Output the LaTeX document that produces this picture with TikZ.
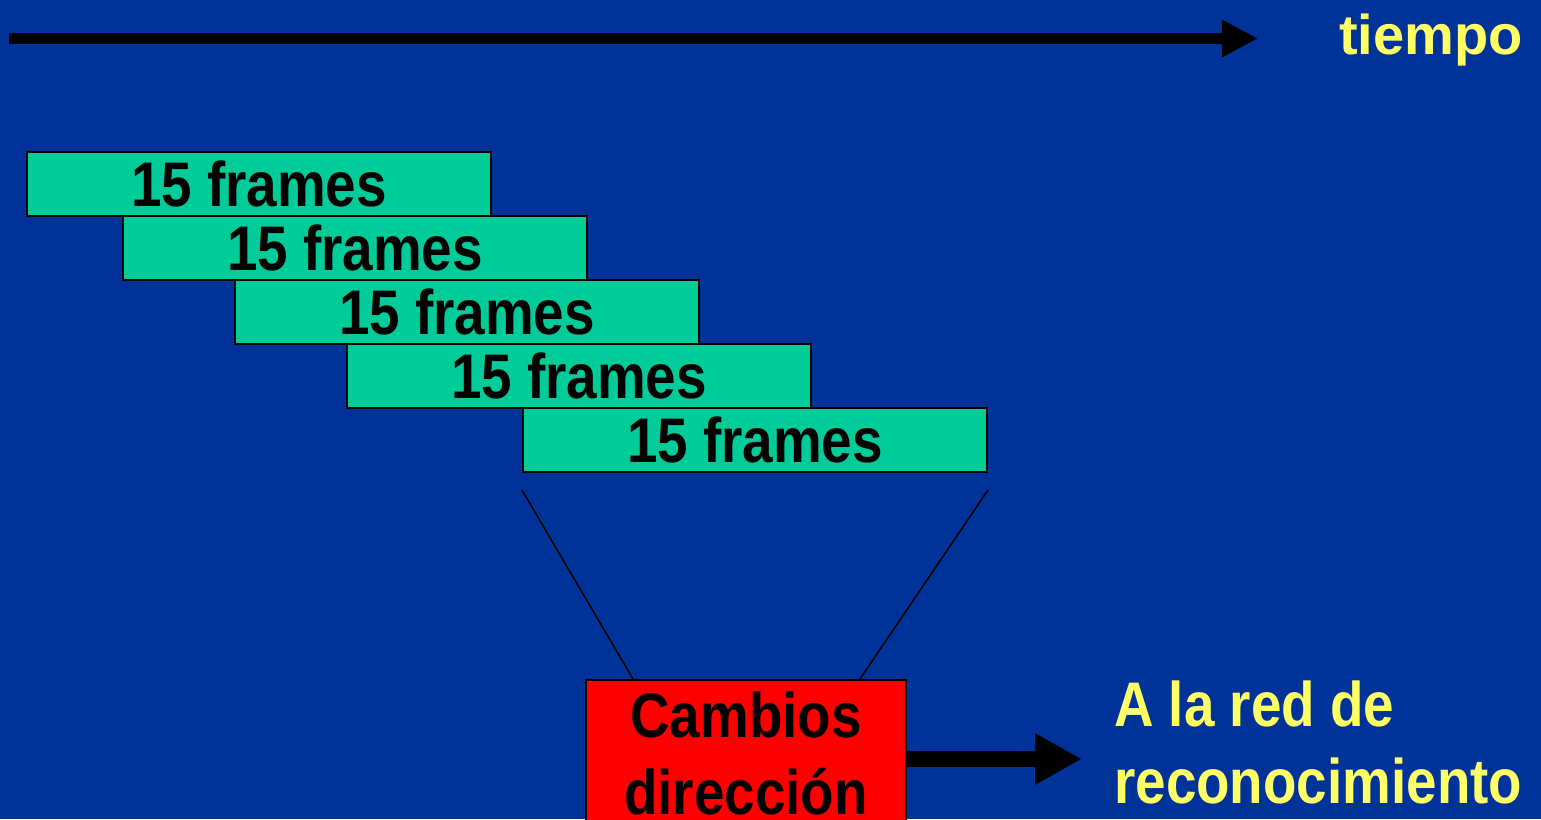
\documentclass[tikz,border=0pt]{standalone}
\usepackage{fontspec}
\usetikzlibrary{arrows.meta,calc}
\newfontfamily\narrowbold{Liberation Sans Bold}[FakeStretch=0.87]
\newfontfamily\widebold{Liberation Sans Bold}
\definecolor{bgblue}{HTML}{003399}
\definecolor{framegreen}{HTML}{00CC99}
\definecolor{txtyellow}{HTML}{FFFF66}
\definecolor{boxred}{HTML}{FF0000}
\tikzset{
  bigtext/.style={font=\narrowbold\fontsize{63}{77}\selectfont},
  framebox/.style={draw=black, line width=2pt, fill=framegreen, bigtext,
    minimum width=464pt, minimum height=64pt, inner sep=0pt, anchor=north west},
  redbox/.style={draw=black, line width=2pt, fill=boxred, bigtext, align=center,
    minimum width=320pt, inner xsep=0pt, inner ysep=12pt},
  funnel/.style={draw=black, line width=1.5pt},
  timearrow/.style={draw=black, line width=11pt, -{Triangle[length=36pt,width=35pt]}},
  outarrow/.style={draw=black, line width=16pt, -{Triangle[length=47pt,width=48pt]}},
  yellowtext/.style={text=txtyellow, inner sep=0pt}
}
\begin{document}
\begin{tikzpicture}[x=1pt,y=-1pt]
\useasboundingbox (0,0) rectangle (1541,819);
\fill[bgblue] (0,0) rectangle (1541,819);
% time axis
\coordinate (t0) at (9,38.5);
\coordinate (t1) at (1258,38.5);
\draw[timearrow] (t0) -- (t1);
\node[yellowtext, font=\widebold\fontsize{56}{66}\selectfont, anchor=base west] (tiempo) at (1339,54) {tiempo};
% frame windows
\node[framebox] (f1) at (26,151) {15 frames};
\node[framebox] (f2) at (122,215) {15 frames};
\node[framebox] (f3) at (234,279) {15 frames};
\node[framebox] (f4) at (346,343) {15 frames};
\node[framebox] (f5) at (522,407) {15 frames};
% red box
\node[redbox, anchor=north] (cambios) at (746,679) {Cambios\\dirección};
% funnel lines
\draw[funnel] ($(f5.south west)+(0,17)$) -- ($(cambios.north west)+(48,0)$);
\draw[funnel] ($(f5.south east)+(0,17)$) -- ($(cambios.north east)+(-47,0)$);
% output arrow
\coordinate (dest) at (1082,759);
\draw[outarrow] (cambios.east |- dest) -- (dest);
\node[yellowtext, bigtext, align=left, anchor=base west] (red) at (1114,803) {A la red de\\reconocimiento};
\end{tikzpicture}
\end{document}
